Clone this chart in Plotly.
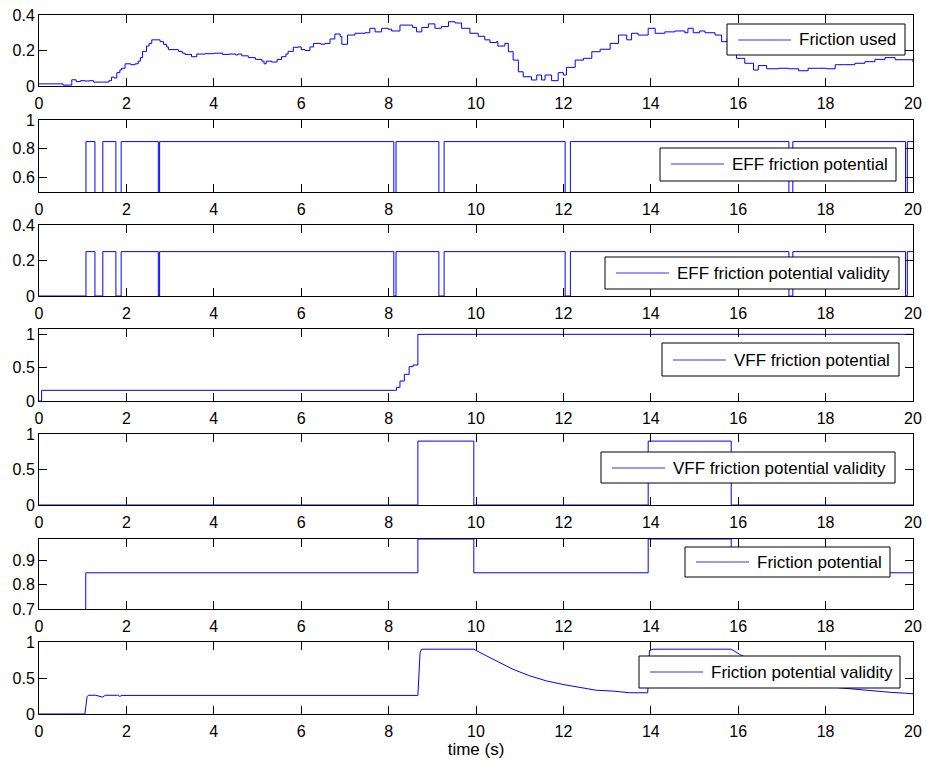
import plotly.graph_objects as go

# ---------------- data ----------------
series_names = [
    "Friction used",
    "EFF friction potential",
    "EFF friction potential validity",
    "VFF friction potential",
    "VFF friction potential validity",
    "Friction potential",
    "Friction potential validity",
]

x_tick_vals = [0, 2, 4, 6, 8, 10, 12, 14, 16, 18, 20]
x_tick_text = ["0", "2", "4", "6", "8", "10", "12", "14", "16", "18", "20"]
x_label = "time (s)"

friction_used_t = [0.0, 0.55, 0.75, 0.85, 0.95, 1.05, 1.15, 1.25, 1.45, 1.6, 1.66, 1.72, 1.78, 1.85,
                   1.89, 1.97, 2.1, 2.2, 2.27, 2.32, 2.37, 2.46, 2.52, 2.58, 2.77, 2.85, 2.92, 2.96,
                   3.19, 3.28, 3.34, 3.49, 3.61, 3.8, 4.0, 4.2, 4.35, 4.5, 4.55, 4.64, 4.79, 4.95,
                   5.1, 5.15, 5.2, 5.32, 5.45, 5.55, 5.65, 5.7, 5.82, 5.93, 6.0, 6.09, 6.2, 6.28,
                   6.45, 6.54, 6.66, 6.77, 6.89, 6.93, 7.06, 7.23, 7.46, 7.57, 7.69, 7.84, 7.99,
                   8.07, 8.26, 8.45, 8.55, 8.64, 8.76, 8.91, 9.06, 9.21, 9.37, 9.52, 9.67, 9.86,
                   10.05, 10.2, 10.32, 10.47, 10.5, 10.66, 10.74, 10.85, 10.97, 11.08, 11.27, 11.39,
                   11.5, 11.58, 11.73, 11.88, 12.0, 12.07, 12.27, 12.46, 12.65, 12.84, 13.07, 13.26,
                   13.45, 13.56, 13.71, 13.94, 14.1, 14.32, 14.55, 14.78, 14.85, 14.97, 15.12, 15.24,
                   15.47, 15.62, 15.75, 15.9, 15.96, 16.15, 16.35, 16.46, 16.65, 16.92, 17.15, 17.38,
                   17.6, 17.83, 18.02, 18.22, 18.44, 18.67, 18.9, 19.13, 19.36, 19.59, 19.78, 20.0]
friction_used_v = [0.012, 0.005, 0.035, 0.025, 0.03, 0.028, 0.03, 0.022, 0.022, 0.03, 0.05, 0.045,
                   0.075, 0.09, 0.1, 0.125, 0.12, 0.125, 0.14, 0.16, 0.195, 0.225, 0.24, 0.26, 0.25,
                   0.235, 0.22, 0.205, 0.195, 0.185, 0.178, 0.165, 0.18, 0.182, 0.185, 0.178, 0.18,
                   0.175, 0.18, 0.17, 0.16, 0.15, 0.14, 0.125, 0.14, 0.135, 0.15, 0.165, 0.18, 0.195,
                   0.218, 0.22, 0.205, 0.2, 0.22, 0.24, 0.235, 0.24, 0.265, 0.293, 0.28, 0.235, 0.287,
                   0.297, 0.3, 0.325, 0.305, 0.325, 0.32, 0.31, 0.343, 0.343, 0.33, 0.305, 0.33, 0.35,
                   0.325, 0.335, 0.362, 0.355, 0.325, 0.297, 0.28, 0.26, 0.245, 0.25, 0.225, 0.24,
                   0.193, 0.146, 0.08, 0.052, 0.034, 0.062, 0.034, 0.062, 0.03, 0.075, 0.062, 0.105,
                   0.146, 0.156, 0.193, 0.207, 0.24, 0.287, 0.26, 0.297, 0.287, 0.325, 0.297, 0.305,
                   0.31, 0.3, 0.325, 0.3, 0.31, 0.3, 0.287, 0.25, 0.27, 0.26, 0.156, 0.128, 0.09,
                   0.115, 0.097, 0.1, 0.097, 0.086, 0.1, 0.1, 0.097, 0.12, 0.12, 0.128, 0.137, 0.15,
                   0.16, 0.148, 0.148, 0.136]

eff_t = [0, 1.075, 1.28, 1.46, 1.76, 1.88, 2.73, 2.76, 8.12, 8.17, 9.15, 9.27,
         12.04, 12.16, 17.16, 17.25, 19.83, 19.87, 20]
eff_pot_v = [0, 0.85, 0, 0.85, 0, 0.85, 0, 0.85, 0, 0.85, 0, 0.85, 0, 0.85, 0, 0.85, 0, 0.85, 0.85]
eff_val_v = [0, 0.25, 0, 0.25, 0, 0.25, 0, 0.25, 0, 0.25, 0, 0.25, 0, 0.25, 0, 0.25, 0, 0.25, 0.25]

vff_pot_t = [0, 0.06, 8.12, 8.18, 8.26, 8.36, 8.47, 8.56, 8.67, 20]
vff_pot_v = [0, 0.16, 0.16, 0.205, 0.3, 0.4, 0.515, 0.54, 1.0, 1.0]

vff_val_t = [0, 8.67, 9.95, 13.94, 15.84, 20]
vff_val_v = [0, 0.9, 0, 0.9, 0, 0]

fp_t = [0, 1.07, 8.67, 9.95, 13.94, 15.84, 20]
fp_v = [0, 0.85, 0.99, 0.85, 0.99, 0.85, 0.85]

fpv_t = [0, 1.05, 1.1, 1.13, 1.3, 1.38, 1.45, 1.52, 1.8, 1.85, 1.9, 8.67, 8.72, 8.75, 9.95,
         10.2, 10.47, 10.85, 11.23, 11.61, 11.99, 12.37, 12.75, 13.14, 13.52, 13.93, 13.97,
         14.05, 15.84, 16.03, 16.3, 16.6, 17.0, 17.4, 17.8, 18.3, 18.7, 19.1, 19.5, 19.8, 20]
fpv_v = [0, 0, 0.24, 0.26, 0.26, 0.245, 0.235, 0.26, 0.26, 0.245, 0.258, 0.258, 0.85, 0.9, 0.9,
         0.82, 0.74, 0.62, 0.53, 0.46, 0.41, 0.365, 0.33, 0.318, 0.295, 0.295, 0.88,
         0.9, 0.9, 0.83, 0.75, 0.66, 0.56, 0.49, 0.43, 0.365, 0.34, 0.32, 0.3, 0.29, 0.28]

y_ranges = [[0, 0.4], [0.5, 1], [0, 0.4], [0, 1.08], [0, 1], [0.7, 0.99], [0, 1]]
y_ticks = [[0, 0.2, 0.4], [0.6, 0.8, 1], [0, 0.2, 0.4], [0, 0.5, 1], [0, 0.5, 1],
           [0.7, 0.8, 0.9], [0, 0.5, 1]]
y_tick_text = [["0", "0.2", "0.4"], ["0.6", "0.8", "1"], ["0", "0.2", "0.4"], ["0", "0.5", "1"],
               ["0", "0.5", "1"], ["0.7", "0.8", "0.9"], ["0", "0.5", "1"]]

series = [
    (friction_used_t, friction_used_v, "hv"),
    (eff_t, eff_pot_v, "hv"),
    (eff_t, eff_val_v, "hv"),
    (vff_pot_t, vff_pot_v, "hv"),
    (vff_val_t, vff_val_v, "hv"),
    (fp_t, fp_v, "hv"),
    (fpv_t, fpv_v, "linear"),
]

# ---------------- layout geometry (pixels) ----------------
W, H = 926, 762
ML, MR, MT, MB = 39, 13, 15, 48
PW, PH = W - ML - MR, H - MT - MB
panel_px = [(15, 86), (120, 192), (225, 296), (329, 401), (434, 505), (539, 609), (642, 714)]
legend_px = [(727, 24, 905, 55), (660, 148, 896, 181), (605, 257, 899, 289), (662, 343, 899, 376),
             (601, 452, 895, 483), (685, 547, 890, 577), (639, 656, 900, 688)]


def fx(px):
    return (px - ML) / PW


def fy(py):
    return (H - MB - py) / PH


FONT = "Liberation Sans, Arial, Helvetica, sans-serif"
BLUE = "#0000ff"
LEG_BLUE = "#3333ff"

fig = go.Figure()
layout = dict(
    width=W, height=H,
    margin=dict(l=ML, r=MR, t=MT, b=MB, pad=0, autoexpand=False),
    paper_bgcolor="white", plot_bgcolor="white",
    font=dict(family=FONT, size=16, color="black"),
    showlegend=False,
)

shapes = []
annotations = []
for i, (t, v, shape) in enumerate(series):
    n = i + 1
    xa = "x" if n == 1 else f"x{n}"
    ya = "y" if n == 1 else f"y{n}"
    fig.add_trace(go.Scatter(x=t, y=v, mode="lines", name=series_names[i],
                             line=dict(color=BLUE, width=1, shape=shape),
                             xaxis=xa, yaxis=ya, showlegend=False))
    top, bot = panel_px[i]
    xaxis = dict(
        domain=[0, 1], anchor=ya, range=[0, 20], automargin=False,
        tickmode="array", tickvals=x_tick_vals, ticktext=x_tick_text,
        ticks="inside", ticklen=8, tickwidth=1, tickcolor="black",
        showline=True, linecolor="black", linewidth=1, mirror="ticks",
        showgrid=False, zeroline=False, ticklabelstandoff=3,
        tickfont=dict(family=FONT, size=16, color="black"),
    )
    if n == 7:
        xaxis["title"] = dict(text=x_label, font=dict(family=FONT, size=17, color="black"),
                              standoff=3)
    yaxis = dict(
        domain=[fy(bot), fy(top)], anchor=xa, range=y_ranges[i], automargin=False,
        tickmode="array", tickvals=y_ticks[i], ticktext=y_tick_text[i],
        ticks="inside", ticklen=8, tickwidth=1, tickcolor="black",
        showline=True, linecolor="black", linewidth=1, mirror="ticks",
        showgrid=False, zeroline=False,
        tickfont=dict(family=FONT, size=16, color="black"),
    )
    layout["xaxis" if n == 1 else f"xaxis{n}"] = xaxis
    layout["yaxis" if n == 1 else f"yaxis{n}"] = yaxis

    L, T, R, B = legend_px[i]
    cy = round((T + B) / 2)
    shapes.append(dict(type="rect", xref="paper", yref="paper",
                       x0=fx(L), x1=fx(R), y0=fy(B), y1=fy(T),
                       line=dict(color="black", width=1), fillcolor="white", layer="above"))
    shapes.append(dict(type="line", xref="paper", yref="paper",
                       x0=fx(L + 11), x1=fx(L + 64), y0=fy(cy), y1=fy(cy),
                       line=dict(color=LEG_BLUE, width=1.2), layer="above"))
    annotations.append(dict(text=series_names[i], xref="paper", yref="paper",
                            x=fx(L + 70), y=fy(cy), xanchor="left", yanchor="middle",
                            showarrow=False, font=dict(family=FONT, size=17, color="black")))

layout["shapes"] = shapes
layout["annotations"] = annotations
fig.update_layout(**layout)
fig.write_html("out.html", config={"displayModeBar": False},
               post_script="document.body.style.margin='0';document.body.style.overflow='hidden';")
